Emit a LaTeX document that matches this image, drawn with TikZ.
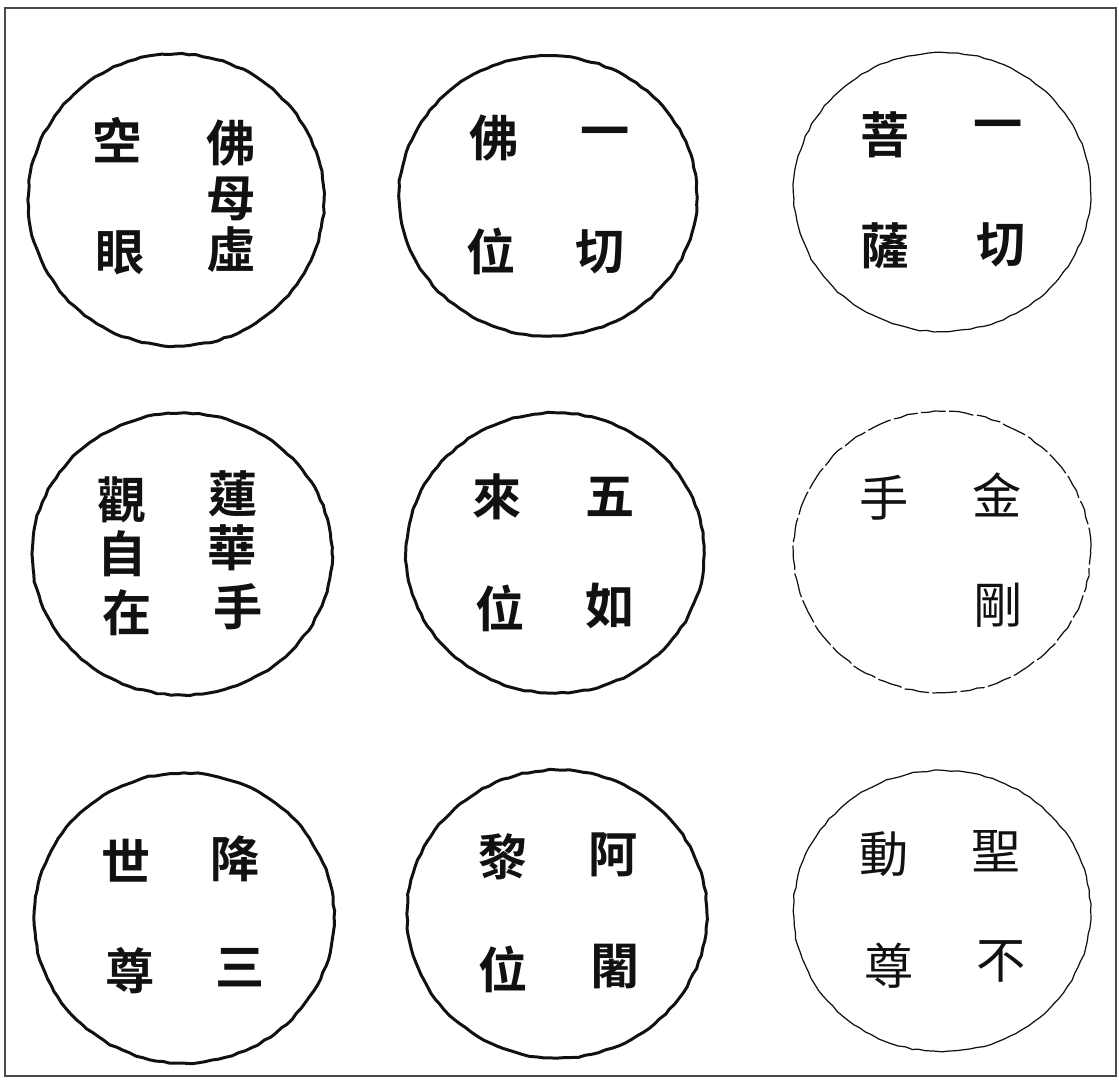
\documentclass[tikz,border=0pt]{standalone}
\usepackage{fontspec}
\usetikzlibrary{decorations.pathmorphing}
\newfontfamily\cjk{Noto Sans CJK TC}[BoldFont=* Bold]
\definecolor{colInk}{HTML}{111111}
\definecolor{colFrame}{HTML}{4A4A4A}
\def\boldfont{\cjk\bfseries\fontsize{28pt}{30pt}\selectfont}
\def\lightfont{\cjk\fontsize{28pt}{30pt}\selectfont}
\newcommand{\disc}[5][line width=1.7pt]{%
  \draw[#1, draw=colInk, decorate, decoration={random steps, segment length=4pt, amplitude=0.4pt}]
    (#2,#3) ellipse [x radius=#4, y radius=#5];}
\newcommand{\glyph}[4][\boldfont]{%
  \node[font=#1, text=colInk, inner sep=0pt] (#2) at (#3) {#4};}

\begin{document}
\begin{tikzpicture}
\useasboundingbox (0,0) rectangle (22.38,-21.58);
\fill[white] (0,0) rectangle (22.38,-21.58);
\draw[draw=colFrame, line width=0.8pt] (0.10,-0.16) rectangle (22.32,-21.52);

% ===================== ROW 1 =====================
\disc{3.52}{-4.00}{2.96}{2.92}
\glyph{c1a}{4.62,-2.86}{佛}
\glyph{c1b}{4.62,-3.98}{母}
\glyph{c1c}{4.62,-5.00}{虛}
\glyph{c1d}{2.34,-2.80}{空}
\glyph{c1e}{2.40,-5.06}{眼}

\disc{10.96}{-3.92}{2.98}{2.80}
\glyph{c2a}{12.10,-2.76}{一}
\glyph{c2b}{12.00,-5.04}{切}
\glyph{c2c}{9.88,-2.76}{佛}
\glyph{c2d}{9.82,-5.02}{位}

\disc[line width=0.7pt]{18.84}{-3.84}{2.97}{2.79}
\glyph{c3a}{19.96,-2.62}{一}
\glyph{c3b}{20.02,-4.90}{切}
\glyph{c3c}{17.70,-2.70}{菩}
\glyph{c3d}{17.70,-4.92}{薩}

% ===================== ROW 2 =====================
\disc{3.64}{-11.08}{3.00}{2.82}
\glyph{c4a}{4.66,-9.88}{蓮}
\glyph{c4b}{4.64,-10.96}{華}
\glyph{c4c}{4.76,-12.14}{手}
\glyph{c4d}{2.44,-10.00}{觀}
\glyph{c4e}{2.44,-11.08}{自}
\glyph{c4f}{2.54,-12.26}{在}

\disc{11.10}{-11.06}{2.98}{2.80}
\glyph{c5a}{12.20,-9.94}{五}
\glyph{c5b}{12.20,-12.12}{如}
\glyph{c5c}{9.94,-9.94}{來}
\glyph{c5d}{10.00,-12.16}{位}

\disc[line width=0.7pt, dash pattern=on 14pt off 2pt]{18.84}{-11.04}{2.97}{2.81}
\glyph[\lightfont]{c6a}{19.94,-9.90}{金}
\glyph[\lightfont]{c6b}{19.96,-12.10}{剛}
\glyph[\lightfont]{c6c}{17.68,-9.96}{手}

% ===================== ROW 3 =====================
\disc{3.68}{-18.36}{3.00}{2.90}
\glyph{c7a}{4.70,-17.18}{降}
\glyph{c7b}{4.80,-19.36}{三}
\glyph{c7c}{2.52,-17.22}{世}
\glyph{c7d}{2.60,-19.42}{尊}

\disc{11.14}{-18.28}{3.00}{2.88}
\glyph{c8a}{12.26,-17.10}{阿}
\glyph{c8b}{12.30,-19.34}{闍}
\glyph{c8c}{10.06,-17.14}{黎}
\glyph{c8d}{10.06,-19.38}{位}

\disc[line width=0.7pt]{18.84}{-18.22}{2.97}{2.81}
\glyph[\lightfont]{c9a}{19.92,-17.02}{聖}
\glyph[\lightfont]{c9b}{20.02,-19.22}{不}
\glyph[\lightfont]{c9c}{17.68,-17.08}{動}
\glyph[\lightfont]{c9d}{17.78,-19.32}{尊}

\end{tikzpicture}
\end{document}
